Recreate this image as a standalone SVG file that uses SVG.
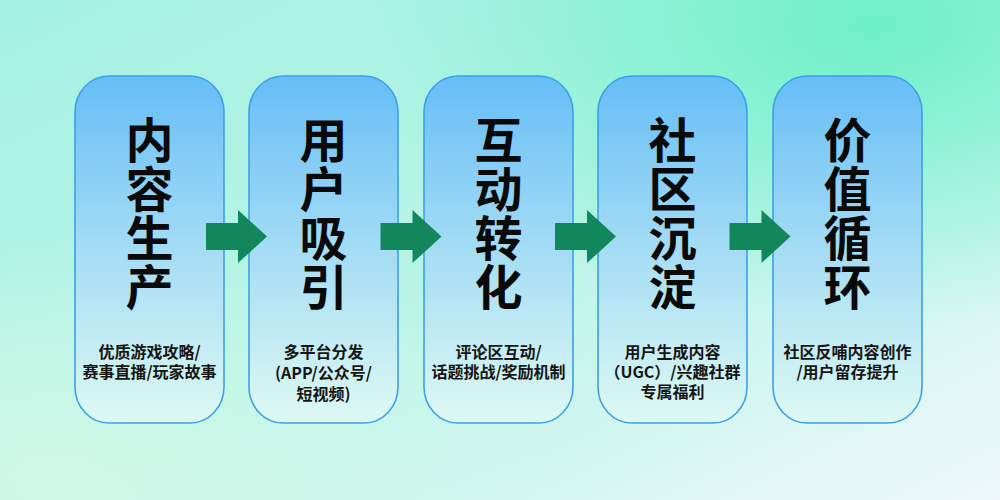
<svg xmlns="http://www.w3.org/2000/svg" width="1000" height="500" viewBox="0 0 1000 500">
<defs>
<linearGradient id="bg" x1="0" y1="0" x2="1" y2="1">
<stop offset="0" stop-color="#a4f1e1"/>
<stop offset="0.5" stop-color="#b8f4e6"/>
<stop offset="1" stop-color="#eef8fb"/>
</linearGradient>
<radialGradient id="glow" cx="0.85" cy="0.05" r="0.6" gradientTransform="translate(0.15 0) scale(0.85 1)">
<stop offset="0" stop-color="#6af0c6" stop-opacity="0.95"/>
<stop offset="1" stop-color="#6af0c6" stop-opacity="0"/>
</radialGradient>
<radialGradient id="glowbl" cx="0.05" cy="0.95" r="0.5">
<stop offset="0" stop-color="#d6fae8" stop-opacity="0.8"/>
<stop offset="1" stop-color="#d6fae8" stop-opacity="0"/>
</radialGradient>
<linearGradient id="box" x1="0" y1="0" x2="0" y2="1">
<stop offset="0" stop-color="#66bdf7"/>
<stop offset="0.5" stop-color="#a4dcf4"/>
<stop offset="1" stop-color="#def9f2"/>
</linearGradient>
<style>
.card{fill:url(#box);stroke:#3d9fe9;stroke-width:1.6}
.big{font-family:"Noto Sans CJK SC","Noto Sans",sans-serif;font-weight:bold;font-size:48px;fill:#0a0a0a;text-anchor:middle;writing-mode:vertical-rl;letter-spacing:1px}
.small{font-family:"Noto Sans CJK SC","Noto Sans",sans-serif;font-weight:bold;font-size:16px;fill:#151515;text-anchor:middle}
.arrow{fill:#13875c}
</style>
</defs>
<rect width="1000" height="500" fill="url(#bg)"/>
<rect width="1000" height="500" fill="url(#glow)"/>
<rect width="1000" height="500" fill="url(#glowbl)"/>

<g id="node1">
<rect class="card" x="75" y="76" width="149" height="347" rx="34" ry="36"/>
<text class="big" x="149.5" y="214">内容生产</text>
<text class="small"><tspan x="149.5" y="358">优质游戏攻略/</tspan><tspan x="149.5" y="378">赛事直播/玩家故事</tspan></text>
</g>
<g id="node2">
<rect class="card" x="249" y="76" width="149" height="347" rx="34" ry="36"/>
<text class="big" x="323.5" y="214">用户吸引</text>
<text class="small"><tspan x="323.5" y="358">多平台分发</tspan><tspan x="323.5" y="379">(APP/公众号/</tspan><tspan x="323.5" y="400">短视频)</tspan></text>
</g>
<g id="node3">
<rect class="card" x="424" y="76" width="149" height="347" rx="34" ry="36"/>
<text class="big" x="498.5" y="214">互动转化</text>
<text class="small"><tspan x="498.5" y="358">评论区互动/</tspan><tspan x="498.5" y="378">话题挑战/奖励机制</tspan></text>
</g>
<g id="node4">
<rect class="card" x="598" y="76" width="149" height="347" rx="34" ry="36"/>
<text class="big" x="672.5" y="214">社区沉淀</text>
<text class="small"><tspan x="672.5" y="358">用户生成内容</tspan><tspan x="672.5" y="378">（UGC）/兴趣社群</tspan><tspan x="672.5" y="398">专属福利</tspan></text>
</g>
<g id="node5">
<rect class="card" x="773" y="76" width="149" height="347" rx="34" ry="36"/>
<text class="big" x="847.5" y="214">价值循环</text>
<text class="small"><tspan x="847.5" y="358">社区反哺内容创作</tspan><tspan x="847.5" y="378">/用户留存提升</tspan></text>
</g>

<g id="connectors">
<polygon class="arrow" points="206,223 238,223 238,210 267,236.5 238,263 238,250 206,250"/>
<polygon class="arrow" points="380.5,223 412.5,223 412.5,210 441.5,236.5 412.5,263 412.5,250 380.5,250"/>
<polygon class="arrow" points="555,223 587,223 587,210 616,236.5 587,263 587,250 555,250"/>
<polygon class="arrow" points="729.5,223 761.5,223 761.5,210 790.5,236.5 761.5,263 761.5,250 729.5,250"/>
</g>
</svg>
